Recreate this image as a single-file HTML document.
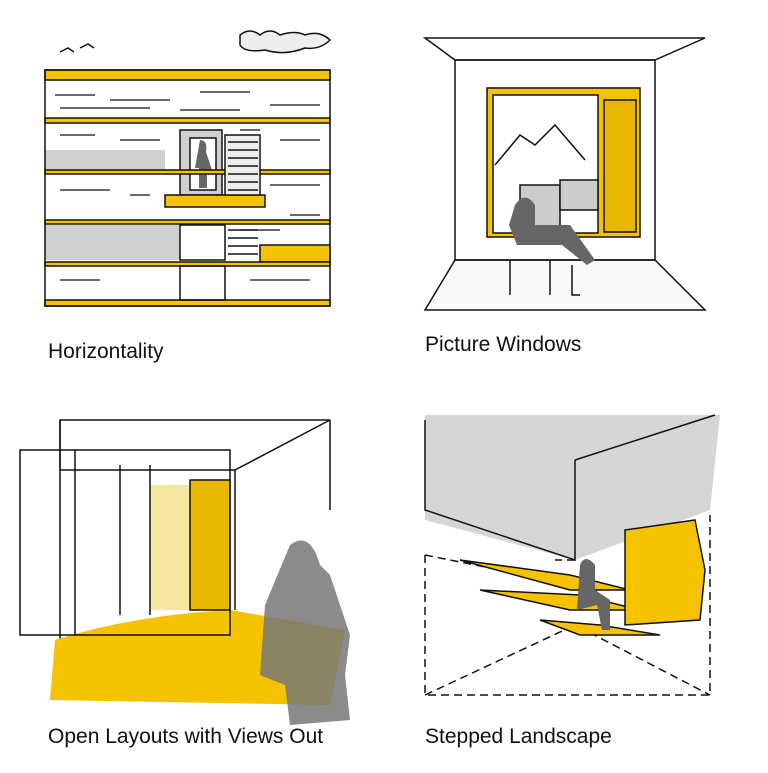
<!DOCTYPE html>
<html><head><meta charset="utf-8"><style>
html,body{margin:0;padding:0;background:#fff;width:768px;height:773px;overflow:hidden}
.l{position:absolute;font-family:"Liberation Sans",sans-serif;font-size:21px;color:#111}
</style></head><body>
<svg width="768" height="773" style="position:absolute;left:0;top:0" fill="none" stroke="#111" stroke-width="1.5">
<!-- Q1 Horizontality -->
<rect x="45" y="150" width="120" height="20" fill="#d0d0d0" stroke="none"/>
<rect x="45" y="225" width="135" height="35" fill="#d0d0d0" stroke="none"/>
<rect x="180" y="130" width="42" height="65" fill="#d0d0d0"/>
<rect x="190" y="138" width="26" height="52" fill="#fff"/>
<path d="M200 140 q8 0 6 12 l6 18 -5 0 0 18 -8 0 0-20 -4 0z" fill="#666" stroke="none"/>
<rect x="45" y="70" width="285" height="10" fill="#f5c200"/>
<rect x="45" y="118" width="285" height="5" fill="#f5c200"/>
<rect x="45" y="170" width="285" height="4" fill="#f5c200"/>
<rect x="165" y="195" width="100" height="12" fill="#f5c200"/>
<rect x="45" y="220" width="285" height="4" fill="#f5c200"/>
<rect x="260" y="245" width="70" height="17" fill="#f5c200"/>
<rect x="45" y="262" width="285" height="4" fill="#f5c200"/>
<rect x="45" y="300" width="285" height="6" fill="#f5c200"/>
<rect x="45" y="70" width="285" height="236"/>
<rect x="180" y="225" width="45" height="35"/>
<rect x="180" y="266" width="45" height="34"/>
<rect x="225" y="135" width="35" height="60" fill="#eee"/>
<path d="M228 142h30M228 150h30M228 158h30M228 166h30M228 174h30M228 182h30M228 190h30M228 230h30M228 238h30M228 246h30M228 254h30"/>
<path d="M55 95h40M110 100h60M200 92h50M270 105h50M60 135h35M120 140h40M240 130h20M280 140h40M60 190h50M130 195h20M270 185h50M60 280h40M250 280h60M240 230h40M290 215h30M60 108h90M180 110h60" stroke-width="1.2"/>
<path d="M240 35q10-8 20 0q10-8 20 0q15-5 25 0q15-5 25 5q-10 10-25 8q-20 8-40 2q-20 3-25-5z" fill="#eee"/>
<path d="M60 52l8-4 6 4M80 48l8-4 6 4"/>
<!-- Q2 Picture Windows -->
<path d="M425 38h280l-50 22h-200z"/>
<path d="M425 310h280l-50-50h-200z" fill="#fafafa"/>
<rect x="455" y="60" width="200" height="200"/>
<rect x="487" y="88" width="153" height="149" fill="#f5c200"/>
<rect x="493" y="95" width="105" height="138" fill="#fff"/>
<rect x="604" y="100" width="32" height="132" fill="#e8b800"/>
<path d="M495 165l25-30 15 10 20-20 30 35" />
<rect x="520" y="185" width="40" height="45" fill="#ccc"/>
<rect x="560" y="180" width="38" height="30" fill="#ccc"/>
<path d="M515 205q10-15 20 0l0 20h35l25 35-8 5-25-20h-45l-8-20z" fill="#666" stroke="none"/>
<path d="M572 265l0 30h8M510 260v35M550 260v35"/>
<!-- Q3 Open Layouts -->
<path d="M60 420h270l-95 50h-175z"/>
<path d="M60 420v235M235 470v140M330 420v90"/>
<path d="M55 640q80-25 175-30l115 20-15 75-280-5z" fill="#f5c200" stroke="none"/>
<rect x="150" y="485" width="80" height="125" fill="#f5e6a0" stroke="none"/>
<rect x="190" y="480" width="40" height="130" fill="#e8b800"/>
<rect x="20" y="450" width="210" height="185"/>
<path d="M75 450v185M150 465v150M120 465v150"/>
<path d="M290 545q20-15 30 20l10 10 20 60-5 40 5 45-60 5-5-40-25-10 5-70z" fill="#777" opacity=".85" stroke="none"/>
<!-- Q4 Stepped Landscape -->
<path d="M425 415h295l-10 95-135 50-150-40z" fill="#d6d6d6" stroke="none"/>
<path d="M425 420v90l150 50v-100M575 460l140-45"/>
<path d="M425 555v140h285v-180M425 555l150 30M425 695l150-70 135 70M575 560l-20 0" stroke-dasharray="8 5"/>
<path d="M460 560l110 30h60l-60-15zM480 590l90 20h70l-60-15zM540 620l40 15h80l-60-10z" fill="#f5c200"/>
<path d="M625 530l70-10 10 50-5 50-75 5z" fill="#f5c200"/>
<path d="M580 565q5-12 15 0l0 25 15 10 0 30-8 0-5-25-20 5z" fill="#666" stroke="none"/>
</svg>
<div class="l" style="left:48px;top:340px">Horizontality</div>
<div class="l" style="left:425px;top:333px">Picture Windows</div>
<div class="l" style="left:48px;top:725px">Open Layouts with Views Out</div>
<div class="l" style="left:425px;top:725px">Stepped Landscape</div>
</body></html>
